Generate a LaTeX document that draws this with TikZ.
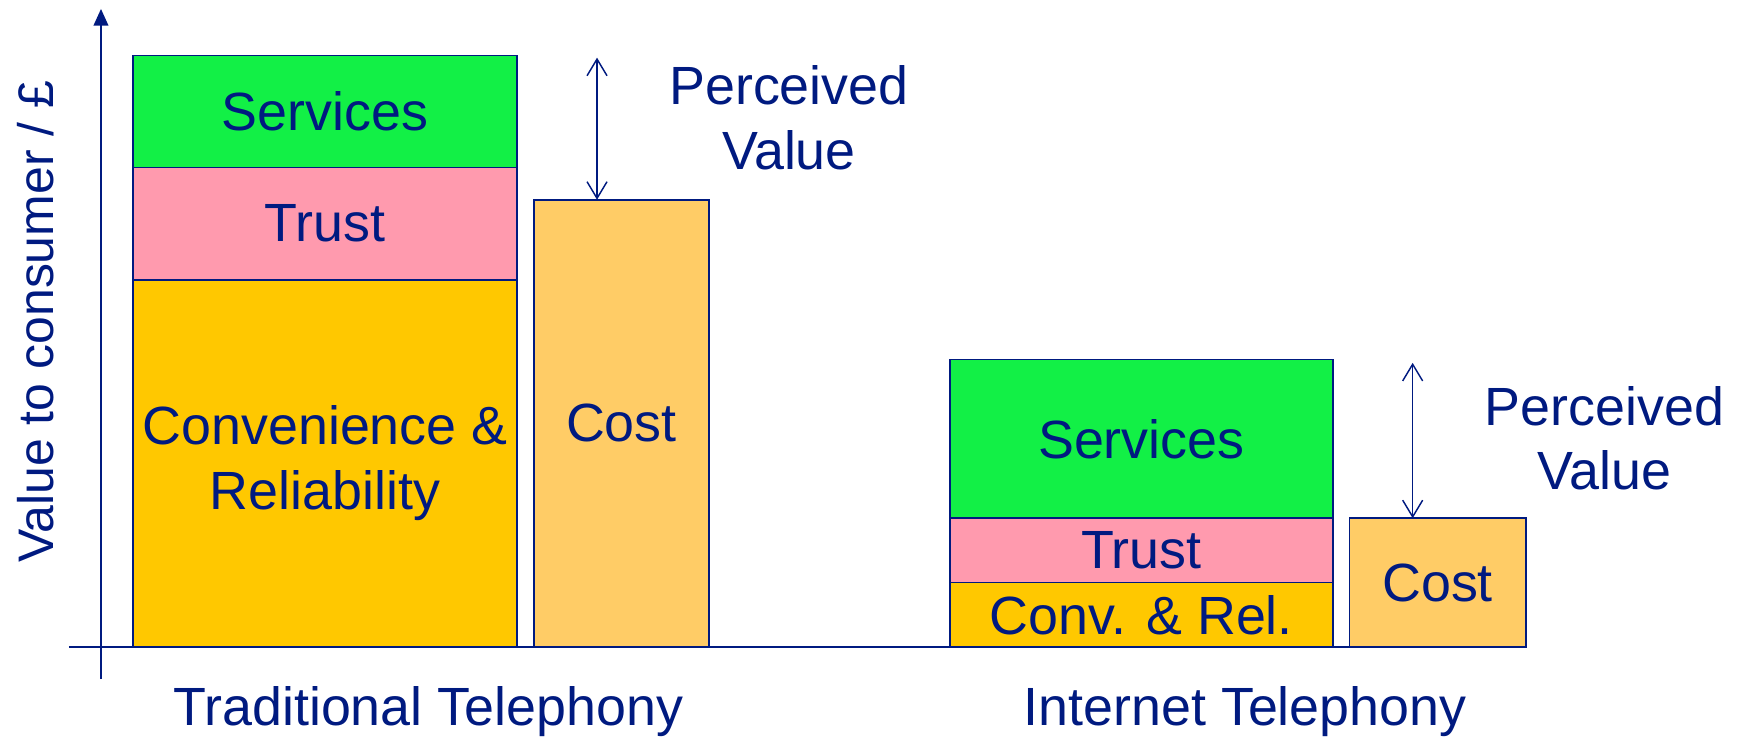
\documentclass[tikz,border=0pt]{standalone}
\usepackage{fontspec}
\setmainfont{Liberation Sans}
\usetikzlibrary{arrows.meta}
\definecolor{navy}{RGB}{0,26,128}
\definecolor{svcgreen}{RGB}{18,240,70}
\definecolor{trustpink}{RGB}{255,154,174}
\definecolor{convgold}{RGB}{255,200,0}
\definecolor{costorange}{RGB}{255,204,102}
\tikzset{
  bar/.style={draw=navy, line width=1.6pt, inner sep=0pt, outer sep=0pt, text=navy, align=center,
    font=\fontsize{48.5}{59}\selectfont},
  lbl/.style={text=navy, align=center, inner sep=0pt, font=\fontsize{48.5}{58}\selectfont},
  axisline/.style={draw=navy, line width=2pt},
  pvarrow/.style={draw=navy, line width=1.3pt, {Straight Barb[length=15pt,width=18pt]}-{Straight Barb[length=15pt,width=18pt]}}
}
\begin{document}
\begin{tikzpicture}[x=1pt,y=-1pt]
\useasboundingbox (0,0) rectangle (1568,664);
% axes
\coordinate (ybot) at (91,612);
\coordinate (ytop) at (91,8);
\coordinate (xleft) at (62,583);
\coordinate (xright) at (1375,583);
% traditional telephony
\node[bar, fill=svcgreen, minimum width=346pt, minimum height=101pt] (svc1) at (293,100.5) {Services};
\node[bar, fill=trustpink, minimum width=346pt, minimum height=101pt] (trust1) at (293,201.5) {Trust};
\node[bar, fill=convgold, minimum width=346pt, minimum height=331pt] (conv1) at (293,417.5) {Convenience \&\\Reliability};
\node[bar, fill=costorange, minimum width=158pt, minimum height=403pt] (cost1) at (560,381.5) {Cost};
% internet telephony
\node[bar, fill=svcgreen, minimum width=345pt, minimum height=143pt] (svc2) at (1028.5,395.5) {Services};
\node[bar, fill=trustpink, minimum width=345pt, minimum height=58pt] (trust2) at (1028.5,496) {Trust};
\node[bar, fill=convgold, minimum width=345pt, minimum height=58pt] (conv2) at (1028.5,554) {Conv. \& Rel.};
\node[bar, fill=costorange, minimum width=159pt, minimum height=116pt] (cost2) at (1295.5,525) {Cost};
% axes drawn over bars
\draw[axisline, -{Triangle[length=15pt,width=13pt]}] (ybot) -- (ytop);
\draw[axisline] (xleft) -- (xright);
% perceived value arrows
\coordinate (pv1top) at (538,52);
\coordinate (pv2top) at (1273,327);
\draw[pvarrow] (pv1top) -- (pv1top |- cost1.north);
\draw[pvarrow] (pv2top) -- (pv2top |- cost2.north);
% labels
\node[lbl] (pv1) at (711,106) {Perceived\\Value};
\node[lbl] (pv2) at (1446,395) {Perceived\\Value};
\node[lbl] (trad) at (386,641) {Traditional Telephony};
\node[lbl] (inet) at (1122,641) {Internet Telephony};
\node[lbl, rotate=90, font=\fontsize{45}{54}\selectfont] (ylab) at (32,290) {Value to consumer / £};
\end{tikzpicture}
\end{document}
